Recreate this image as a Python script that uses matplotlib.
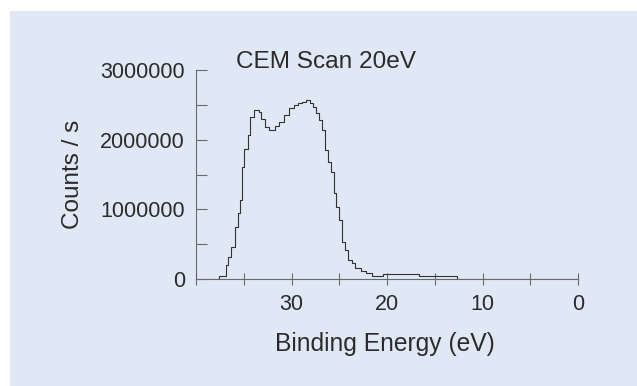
import matplotlib
matplotlib.use("Agg")
import matplotlib.pyplot as plt
from matplotlib.patches import Rectangle

# step spectrum (each energy starts a step)
energy = [39.0, 37.6, 36.9, 36.6, 36.3, 35.9, 35.6, 35.4, 35.2, 35.0,
          34.6, 34.3, 33.9, 33.4, 33.2, 32.8, 32.4, 31.7, 31.3, 30.8,
          30.3, 29.7, 29.3, 28.9, 28.5, 28.1, 27.8, 27.4, 27.1, 26.8,
          26.5, 26.2, 25.9, 25.6, 25.3, 25.0, 24.7, 24.4, 24.1, 23.7,
          23.3, 22.7, 22.2, 21.6, 20.4, 16.6, 12.7, 0.0]
counts = [0, 40000, 200000, 320000, 460000, 750000, 950000, 1130000, 1610000, 1870000,
          2070000, 2330000, 2420000, 2400000, 2300000, 2180000, 2140000, 2190000, 2260000, 2350000,
          2450000, 2500000, 2520000, 2540000, 2570000, 2520000, 2470000, 2380000, 2280000, 2140000,
          1850000, 1680000, 1540000, 1230000, 1040000, 850000, 535000, 415000, 270000, 225000,
          155000, 120000, 90000, 50000, 72000, 50000, 0, 0]

x_ticks = [40, 35, 30, 25, 20, 15, 10, 5, 0]
x_labels = ["", "", "30", "", "20", "", "10", "", "0"]
y_ticks = [0, 500000, 1000000, 1500000, 2000000, 2500000, 3000000]
y_labels = ["0", "", "1000000", "", "2000000", "", "3000000"]

plt.rcParams["font.family"] = ["Liberation Sans", "DejaVu Sans"]
txt = "#2b2b2b"
axc = "#6a6a6a"

fig = plt.figure(figsize=(6.37, 3.86), dpi=100)
fig.patch.set_facecolor("white")
# light blue panel behind everything
fig.patches.append(Rectangle((10 / 637, 0), 1 - 10 / 637, 1 - 11 / 386,
                             transform=fig.transFigure, facecolor="#e0e8f5",
                             edgecolor="none", zorder=-10))

ax = fig.add_axes([196 / 637, 1 - 279 / 386, 382 / 637, 209 / 386])
ax.set_facecolor("none")
ax.plot(energy, counts, drawstyle="steps-post", color="#333333", lw=0.8)

ax.set_xlim(40, 0)
ax.set_ylim(0, 3000000)
ax.set_xticks(x_ticks)
ax.set_xticklabels(x_labels)
ax.set_yticks(y_ticks)
ax.set_yticklabels(y_labels)

for s in ["top", "right"]:
    ax.spines[s].set_visible(False)
for s in ["left", "bottom"]:
    ax.spines[s].set_color(axc)
    ax.spines[s].set_linewidth(0.8)

ax.tick_params(axis="x", direction="inout", length=8, width=0.8, color=axc,
               labelsize=15.5, labelcolor=txt, pad=7)
ax.tick_params(axis="y", direction="in", length=8, width=0.8, color=axc,
               labelsize=15.5, labelcolor=txt, pad=8)

ax.set_xlabel("Binding Energy (eV)", fontsize=17.7, color=txt)
ax.xaxis.set_label_coords(0.495, -0.254)
ax.set_ylabel("Counts / s", fontsize=17.5, color=txt)
ax.yaxis.set_label_coords(-0.293, 0.502)
fig.text(236 / 637, 1 - 67.5 / 386, "CEM Scan 20eV", fontsize=17.6, color=txt,
         va="baseline", ha="left")

fig.savefig("out.png", dpi=100, facecolor=fig.get_facecolor())
